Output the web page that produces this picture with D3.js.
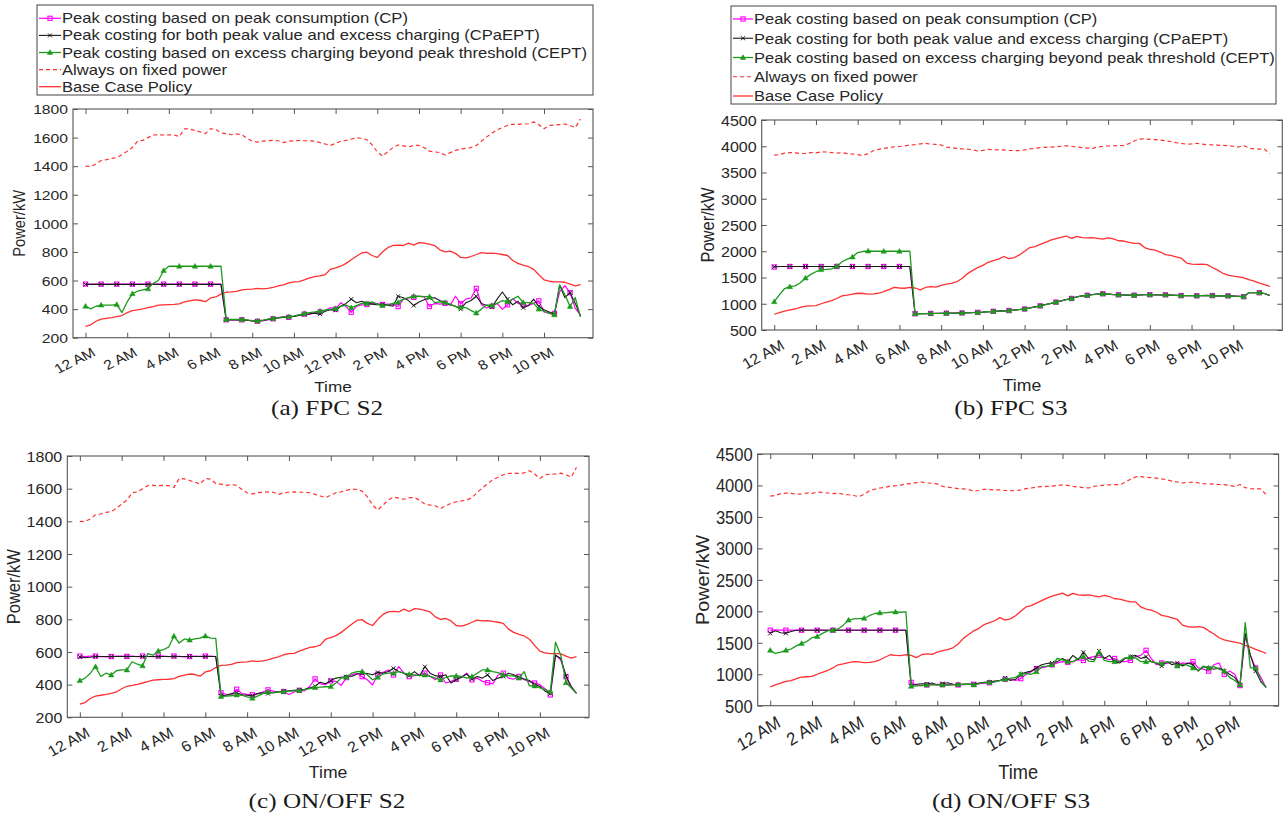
<!DOCTYPE html>
<html>
<head>
<meta charset="utf-8">
<script src="https://cdn.jsdelivr.net/npm/d3@7"></script>
<style>
  body { margin: 0; background: #ffffff; }
  svg { display: block; }
  text { font-family: "Liberation Sans", Arial, Helvetica, sans-serif; fill: #262626; }
  .caption { font-family: "Liberation Serif", "Times New Roman", serif; fill: #1a1a1a; }
</style>
</head>
<body>
<svg id="chart" width="1286" height="823"></svg>
<script>
// ---- time grid: one sample every 15 minutes over a day ----
const hours = d3.range(0, 24, 0.25);
const tickHours = [0, 2, 4, 6, 8, 10, 12, 14, 16, 18, 20, 22];
const tickLabels = ["12 AM", "2 AM", "4 AM", "6 AM", "8 AM", "10 AM",
                    "12 PM", "2 PM", "4 PM", "6 PM", "8 PM", "10 PM"];
const yTicksS2 = [200, 400, 600, 800, 1000, 1200, 1400, 1600, 1800];
const yTicksS3 = [500, 1000, 1500, 2000, 2500, 3000, 3500, 4000, 4500];

const seriesNames = [
  "Peak costing based on peak consumption (CP)",
  "Peak costing for both peak value and excess charging (CPaEPT)",
  "Peak costing based on excess charging beyond peak threshold (CEPT)",
  "Always on fixed power",
  "Base Case Policy"
];
const captions = ["(a) FPC S2", "(b) FPC S3", "(c) ON/OFF S2", "(d) ON/OFF S3"];

// ---- station S2 reference profiles (kW) ----
const fixedS2 = [
  1400,1398,1415,1440,1445,1455,1460,1480,1505,1530,1575,1580,
  1600,1618,1620,1618,1620,1618,1608,1662,1660,1650,1640,1628,
  1662,1658,1632,1628,1620,1625,1620,1595,1575,1568,1575,1578,
  1580,1578,1565,1575,1578,1580,1578,1578,1575,1565,1555,1545,
  1560,1575,1580,1590,1598,1595,1585,1550,1500,1470,1500,1530,
  1548,1542,1535,1545,1545,1530,1505,1500,1495,1478,1495,1510,
  1520,1525,1530,1545,1575,1605,1630,1655,1670,1685,1693,1693,
  1694,1697,1710,1690,1662,1685,1688,1690,1695,1685,1670,1730
];
const baseS2 = [
  280,290,315,330,335,340,347,355,375,390,395,402,
  410,418,428,430,432,433,437,450,458,465,462,452,
  478,485,505,518,520,524,535,538,540,545,542,545,
  552,562,570,583,590,592,605,618,628,632,642,678,
  688,700,720,745,770,793,798,775,762,800,830,845,
  848,845,862,848,865,862,855,845,815,800,805,790,
  762,758,768,782,795,790,792,788,782,775,740,720,
  708,698,678,640,605,595,590,590,588,575,563,572
];

// ---- station S3 reference profiles (kW) ----
const fixedS3 = [
  3830,3840,3870,3878,3875,3860,3865,3880,3875,3895,3890,3880,
  3870,3878,3860,3852,3840,3822,3860,3915,3940,3960,3970,3990,
  3995,4005,4025,4030,4045,4055,4040,4035,4025,3985,3975,3960,
  3950,3945,3935,3910,3920,3940,3935,3930,3930,3920,3918,3915,
  3930,3950,3960,3975,3980,3985,3990,4000,4010,4000,3985,3975,
  3965,3960,3985,3995,4005,4010,4015,4012,4050,4100,4135,4140,
  4130,4125,4118,4105,4090,4068,4055,4040,4045,4055,4040,4030,
  4025,4020,4015,4012,4000,3985,4015,3965,3950,3945,3945,3855
];
const baseS3 = [
  800,830,860,885,900,930,955,960,965,1000,1030,1060,
  1100,1150,1165,1185,1200,1195,1185,1190,1200,1230,1270,1310,
  1300,1295,1310,1300,1265,1310,1325,1315,1350,1375,1390,1420,
  1480,1570,1630,1690,1730,1790,1820,1850,1900,1860,1880,1930,
  2000,2070,2090,2130,2170,2210,2240,2265,2290,2245,2285,2260,
  2255,2260,2245,2230,2255,2235,2200,2195,2170,2150,2150,2070,
  2035,2020,1985,1935,1920,1895,1870,1780,1755,1750,1755,1745,
  1690,1640,1580,1545,1525,1510,1495,1460,1430,1395,1365,1330
];

// ---- FPC, station S2 ----
const cpFpcS2 = [
  575,575,575,575,575,575,575,575,575,575,575,575,
  575,575,575,575,575,575,575,575,575,575,575,575,
  575,575,575,325,325,325,325,322,318,315,318,325,
  332,340,348,342,350,360,365,362,375,380,392,410,
  400,445,418,378,420,430,432,440,438,432,435,432,
  418,470,478,482,490,485,418,440,435,440,428,490,
  438,470,478,545,430,408,420,440,398,430,472,440,
  430,425,440,458,380,372,370,520,565,515,405,360
];
const cpaeptFpcS2 = [
  573,573,573,573,573,573,573,573,573,573,573,573,
  573,573,573,573,573,573,573,573,573,573,573,573,
  573,573,573,325,325,325,325,322,318,315,320,328,
  332,338,342,345,348,355,362,368,372,365,385,395,
  392,420,440,470,445,455,440,435,430,432,428,420,
  490,480,460,425,450,465,478,480,460,445,430,420,
  400,445,460,490,440,425,415,470,520,470,430,455,
  410,425,470,420,395,380,365,568,480,515,440,350
];
const ceptFpcS2 = [
  420,402,420,428,428,428,432,376,450,508,525,535,
  542,580,600,670,700,700,700,700,700,700,700,700,
  700,700,700,328,328,328,328,325,320,316,322,330,
  335,340,344,347,352,360,370,375,380,386,392,398,
  405,420,428,410,425,440,440,450,435,425,430,440,
  447,470,480,490,490,488,487,445,450,447,435,418,
  413,410,390,373,400,430,425,440,460,452,470,490,
  447,445,440,400,385,370,360,570,500,418,480,345
];

// ---- FPC, station S3 ----
const cpFpcS3 = [
  1700,1710,1710,1710,1710,1710,1710,1710,1710,1710,1710,1710,
  1710,1710,1710,1710,1710,1710,1710,1710,1710,1710,1710,1710,
  1710,1710,1710,810,810,812,815,815,818,820,820,822,
  825,828,832,835,840,848,855,860,865,870,880,890,
  900,920,940,960,985,1005,1030,1055,1080,1100,1130,1150,
  1160,1175,1185,1190,1185,1175,1170,1168,1165,1162,1168,1172,
  1172,1170,1168,1170,1165,1160,1155,1155,1155,1152,1155,1158,
  1155,1150,1148,1150,1145,1140,1135,1212,1212,1210,1195,1155
];
const cpaeptFpcS3 = [
  1705,1710,1710,1710,1710,1710,1710,1710,1710,1710,1710,1710,
  1710,1710,1710,1710,1710,1710,1710,1710,1710,1710,1710,1710,
  1710,1710,1710,810,810,812,815,815,818,820,820,822,
  825,828,832,835,840,848,855,860,865,870,880,890,
  900,920,940,960,985,1005,1030,1055,1080,1100,1130,1150,
  1160,1175,1185,1190,1185,1175,1170,1168,1165,1162,1168,1172,
  1172,1170,1168,1170,1165,1160,1155,1155,1155,1152,1155,1158,
  1155,1150,1148,1150,1145,1140,1135,1212,1212,1210,1195,1155
];
const ceptFpcS3 = [
  1040,1170,1290,1325,1340,1400,1490,1560,1610,1650,1655,1665,
  1715,1800,1850,1890,1975,1995,2005,2000,2000,2000,2000,2000,
  2000,2000,2000,810,810,812,815,815,818,820,820,822,
  825,828,832,835,840,848,855,860,865,870,880,890,
  900,920,940,960,985,1005,1030,1055,1080,1100,1130,1150,
  1160,1175,1185,1190,1185,1175,1170,1168,1165,1162,1168,1172,
  1172,1170,1168,1170,1165,1160,1155,1155,1155,1152,1155,1158,
  1155,1150,1148,1150,1145,1140,1135,1212,1212,1210,1195,1155
];

// ---- ON/OFF, station S2 ----
const cpOnOffS2 = [
  575,572,575,575,572,570,572,575,575,573,575,572,
  575,573,572,575,575,572,575,573,570,572,575,573,
  575,575,572,350,340,335,372,345,340,338,345,355,
  368,360,355,358,340,355,365,362,390,435,405,400,
  423,420,395,443,460,470,449,430,398,463,475,490,
  459,510,470,449,455,462,470,452,430,459,410,420,
  433,445,470,429,440,420,412,405,459,470,440,433,
  450,430,418,410,400,375,337,582,550,449,380,347
];
const cpaeptOnOffS2 = [
  570,565,568,572,572,572,572,572,572,572,572,572,
  572,572,572,572,572,572,572,572,572,572,572,572,
  572,572,572,331,335,345,350,338,335,332,345,350,
  345,352,356,360,362,365,368,372,380,390,415,405,
  425,440,445,448,450,465,470,468,460,475,470,480,
  500,480,470,455,480,455,510,470,455,450,460,410,
  430,445,465,435,450,440,460,425,440,450,470,460,
  445,435,425,400,390,360,345,580,560,453,390,347
];
const ceptOnOffS2 = [
  425,440,470,510,450,470,459,485,490,490,540,525,
  515,590,580,606,615,630,697,655,680,673,680,685,
  698,685,683,327,330,332,337,335,325,317,330,345,
  357,350,355,357,360,362,364,370,375,382,385,387,
  388,410,440,445,470,480,480,460,430,445,465,470,
  470,480,470,463,460,455,459,450,440,429,445,453,
  453,450,440,449,470,490,490,480,474,460,455,453,
  440,480,392,392,380,370,357,660,580,412,380,347
];

// ---- ON/OFF, station S3 ----
const cpOnOffS3 = [
  1700,1705,1700,1700,1700,1700,1700,1700,1700,1700,1700,1700,
  1700,1700,1700,1700,1700,1700,1700,1700,1700,1700,1700,1700,
  1700,1700,1700,870,830,820,830,835,840,835,835,840,
  830,835,840,840,850,855,865,880,900,920,920,900,
  930,1000,1040,1090,1100,1120,1150,1180,1200,1190,1200,1230,
  1220,1260,1280,1300,1260,1230,1250,1200,1200,1220,1280,1300,
  1380,1250,1150,1180,1170,1200,1150,1180,1170,1200,1100,1080,
  1050,1150,1180,1000,1050,1000,820,1600,1300,1100,950,790
];
const cpaeptOnOffS3 = [
  1650,1690,1660,1650,1680,1700,1700,1700,1700,1700,1700,1700,
  1700,1700,1700,1700,1700,1700,1700,1700,1700,1700,1700,1700,
  1700,1700,1700,810,840,850,845,860,830,850,865,840,
  830,840,845,840,860,870,875,890,900,940,900,920,
  1000,1030,1050,1100,1150,1170,1180,1200,1250,1200,1300,1230,
  1350,1250,1230,1370,1250,1300,1200,1180,1250,1280,1300,1250,
  1280,1200,1180,1130,1200,1150,1180,1130,1180,1150,1050,1120,
  1100,1080,1100,1050,1000,950,830,1650,1300,1050,880,790
];
const ceptOnOffS3 = [
  1380,1330,1350,1380,1400,1450,1490,1520,1580,1600,1650,1690,
  1700,1720,1780,1860,1880,1885,1890,1930,1965,1975,1975,1985,
  1990,1985,1990,810,815,820,830,830,832,830,825,830,
  835,845,840,830,850,870,870,880,900,920,935,950,
  1000,1010,1000,1040,1120,1130,1150,1250,1230,1200,1200,1250,
  1280,1210,1200,1350,1220,1200,1200,1210,1260,1270,1260,1200,
  1200,1200,1180,1170,1200,1190,1130,1160,1140,1100,1060,1130,
  1100,1120,1080,1050,950,900,830,1820,1100,1100,900,790
];

// ---- styling of each policy ----
const styles = [
  { color: "#ff00ff", width: 1.2, dash: null, marker: "square" },
  { color: "#1a1a1a", width: 1.1, dash: null, marker: "cross" },
  { color: "#1c9a1c", width: 1.3, dash: null, marker: "triangle" },
  { color: "#ff3030", width: 1.2, dash: "4,3", marker: null },
  { color: "#ff3030", width: 1.3, dash: null, marker: null }
];

// ---- panel layout (pixels) ----
const panels = [
  { caption: captions[0], L: 73, R: 593, T: 109, B: 337.7, yDomain: [200, 1800], yTicks: yTicksS2,
    series: [cpFpcS2, cpaeptFpcS2, ceptFpcS2, fixedS2, baseS2],
    tickFont: 13.4, labelFont: 14.7, sx: 1.17, ylabX: 19, timeY: 387, capX: 327, capY: 415,
    legend: { x0: 37, x1: 593, y0: 5, y1: 95, row0: 18.3, step: 17.1, font: 14.2, sx: 1.17, lineW: 22 } },
  { caption: captions[1], L: 761.7, R: 1282.3, T: 120, B: 330, yDomain: [500, 4500], yTicks: yTicksS3,
    series: [cpFpcS3, cpaeptFpcS3, ceptFpcS3, fixedS3, baseS3],
    tickFont: 15, labelFont: 16.5, sx: 1.07, ylabX: 708, timeY: 386, capX: 1011, capY: 415,
    legend: { x0: 731, x1: 1276, y0: 6, y1: 104, row0: 19, step: 19.25, font: 15.4, sx: 1.07, lineW: 20 } },
  { caption: captions[2], L: 67.3, R: 589, T: 456, B: 717.3, yDomain: [200, 1800], yTicks: yTicksS2,
    series: [cpOnOffS2, cpaeptOnOffS2, ceptOnOffS2, fixedS2, baseS2],
    tickFont: 15, labelFont: 16.5, sx: 1.07, ylabX: 14, timeY: 773, capX: 327, capY: 808 },
  { caption: captions[3], L: 757.7, R: 1278.6, T: 454, B: 705.7, yDomain: [500, 4500], yTicks: yTicksS3,
    series: [cpOnOffS3, cpaeptOnOffS3, ceptOnOffS3, fixedS3, baseS3],
    tickFont: 18, labelFont: 19.8, sx: 0.92, ylabX: 703, timeY: 772, capX: 1011, capY: 808 }
];

const svg = d3.select("#chart");
const axisColor = "#555555";

function drawMarker(g, kind, style, cx, cy) {
  if (kind === "square") {
    g.append("rect").attr("x", cx - 2.1).attr("y", cy - 2.1).attr("width", 4.2).attr("height", 4.2)
      .attr("fill", "none").attr("stroke", style.color).attr("stroke-width", 1.1);
  } else if (kind === "cross") {
    g.append("path").attr("d", `M${cx - 2},${cy - 2}L${cx + 2},${cy + 2}M${cx - 2},${cy + 2}L${cx + 2},${cy - 2}`)
      .attr("stroke", style.color).attr("stroke-width", 1).attr("fill", "none");
  } else if (kind === "triangle") {
    g.append("path").attr("d", d3.symbol(d3.symbolTriangle, 13)())
      .attr("transform", `translate(${cx},${cy + 0.4})`)
      .attr("fill", style.color).attr("stroke", style.color).attr("stroke-width", 0.5);
  }
}

panels.forEach(p => {
  const x = d3.scaleLinear().domain([-0.6, 24.35]).range([p.L, p.R]);
  const y = d3.scaleLinear().domain(p.yDomain).range([p.B, p.T]);
  const g = svg.append("g");

  g.append("rect").attr("x", p.L).attr("y", p.T).attr("width", p.R - p.L).attr("height", p.B - p.T)
    .attr("fill", "#ffffff");

  // reference profiles first, then the three costing policies
  const order = [3, 4, 0, 1, 2];
  order.forEach(k => {
    const st = styles[k];
    const values = p.series[k];
    const line = d3.line().x((d, i) => x(hours[i])).y(d => y(d));
    g.append("path").datum(values).attr("d", line)
      .attr("fill", "none").attr("stroke", st.color).attr("stroke-width", st.width)
      .attr("stroke-linejoin", "round")
      .attr("stroke-dasharray", st.dash);
    if (st.marker) {
      const mg = g.append("g");
      values.forEach((v, i) => {
        if (i % 3 === 0) drawMarker(mg, st.marker, st, x(hours[i]), y(v));
      });
    }
  });

  // axes with inward ticks on all four sides
  const tickLen = 5;
  const bottom = g.append("g").attr("transform", `translate(0,${p.B})`)
    .call(d3.axisBottom(x).tickValues(tickHours).tickSize(-tickLen).tickSizeOuter(0)
      .tickFormat((d, i) => tickLabels[i]));
  const top = g.append("g").attr("transform", `translate(0,${p.T})`)
    .call(d3.axisTop(x).tickValues(tickHours).tickSize(-tickLen).tickSizeOuter(0).tickFormat(""));
  const left = g.append("g").attr("transform", `translate(${p.L},0)`)
    .call(d3.axisLeft(y).tickValues(p.yTicks).tickSize(-tickLen).tickSizeOuter(0).tickFormat(d3.format("d")));
  const right = g.append("g").attr("transform", `translate(${p.R},0)`)
    .call(d3.axisRight(y).tickValues(p.yTicks).tickSize(-tickLen).tickSizeOuter(0).tickFormat(""));

  [bottom, top, left, right].forEach(a => {
    a.select(".domain").remove();
    a.selectAll(".tick line").attr("stroke", axisColor).attr("stroke-width", 1);
  });

  bottom.selectAll(".tick text")
    .attr("x", null).attr("y", null).attr("dy", "0.72em")
    .attr("text-anchor", "end")
    .attr("font-size", p.tickFont).attr("fill", "#262626")
    .attr("font-family", "Liberation Sans, Arial, sans-serif")
    .attr("transform", `translate(5,9) scale(${p.sx},1) rotate(-30)`);

  left.selectAll(".tick text")
    .attr("x", null).attr("dy", "0.35em")
    .attr("text-anchor", "end")
    .attr("font-size", p.tickFont).attr("fill", "#262626")
    .attr("font-family", "Liberation Sans, Arial, sans-serif")
    .attr("transform", `translate(-5,0) scale(${p.sx},1)`);

  g.append("rect").attr("x", p.L).attr("y", p.T).attr("width", p.R - p.L).attr("height", p.B - p.T)
    .attr("fill", "none").attr("stroke", axisColor).attr("stroke-width", 1.1);

  // axis titles
  g.append("text").text("Power/kW")
    .attr("text-anchor", "middle").attr("dominant-baseline", "central")
    .attr("font-size", p.labelFont)
    .attr("transform", `translate(${p.ylabX},${(p.T + p.B) / 2}) scale(${p.sx},1) rotate(-90)`);
  g.append("text").text("Time")
    .attr("text-anchor", "middle").attr("dominant-baseline", "central")
    .attr("font-size", p.labelFont)
    .attr("transform", `translate(${(p.L + p.R) / 2},${p.timeY}) scale(${p.sx},1)`);

  // sub-figure caption
  g.append("text").attr("class", "caption").text(p.caption)
    .attr("text-anchor", "middle").attr("font-size", 21)
    .attr("transform", `translate(${p.capX},${p.capY}) scale(1.2,1)`);

  // legend
  if (p.legend) {
    const lg = p.legend;
    const leg = svg.append("g");
    leg.append("rect").attr("x", lg.x0).attr("y", lg.y0).attr("width", lg.x1 - lg.x0).attr("height", lg.y1 - lg.y0)
      .attr("fill", "#ffffff").attr("stroke", axisColor).attr("stroke-width", 1.1);
    seriesNames.forEach((name, k) => {
      const st = styles[k];
      const cy = lg.row0 + k * lg.step;
      const lx0 = lg.x0 + 2, lx1 = lg.x0 + 2 + lg.lineW;
      leg.append("line").attr("x1", lx0).attr("x2", lx1).attr("y1", cy).attr("y2", cy)
        .attr("stroke", st.color).attr("stroke-width", st.width).attr("stroke-dasharray", st.dash);
      if (st.marker) drawMarker(leg, st.marker, st, (lx0 + lx1) / 2, cy);
      leg.append("text").text(name)
        .attr("dominant-baseline", "central")
        .attr("font-size", lg.font)
        .attr("transform", `translate(${lx1 + 1},${cy}) scale(${lg.sx},1)`);
    });
  }
});
</script>
</body>
</html>
